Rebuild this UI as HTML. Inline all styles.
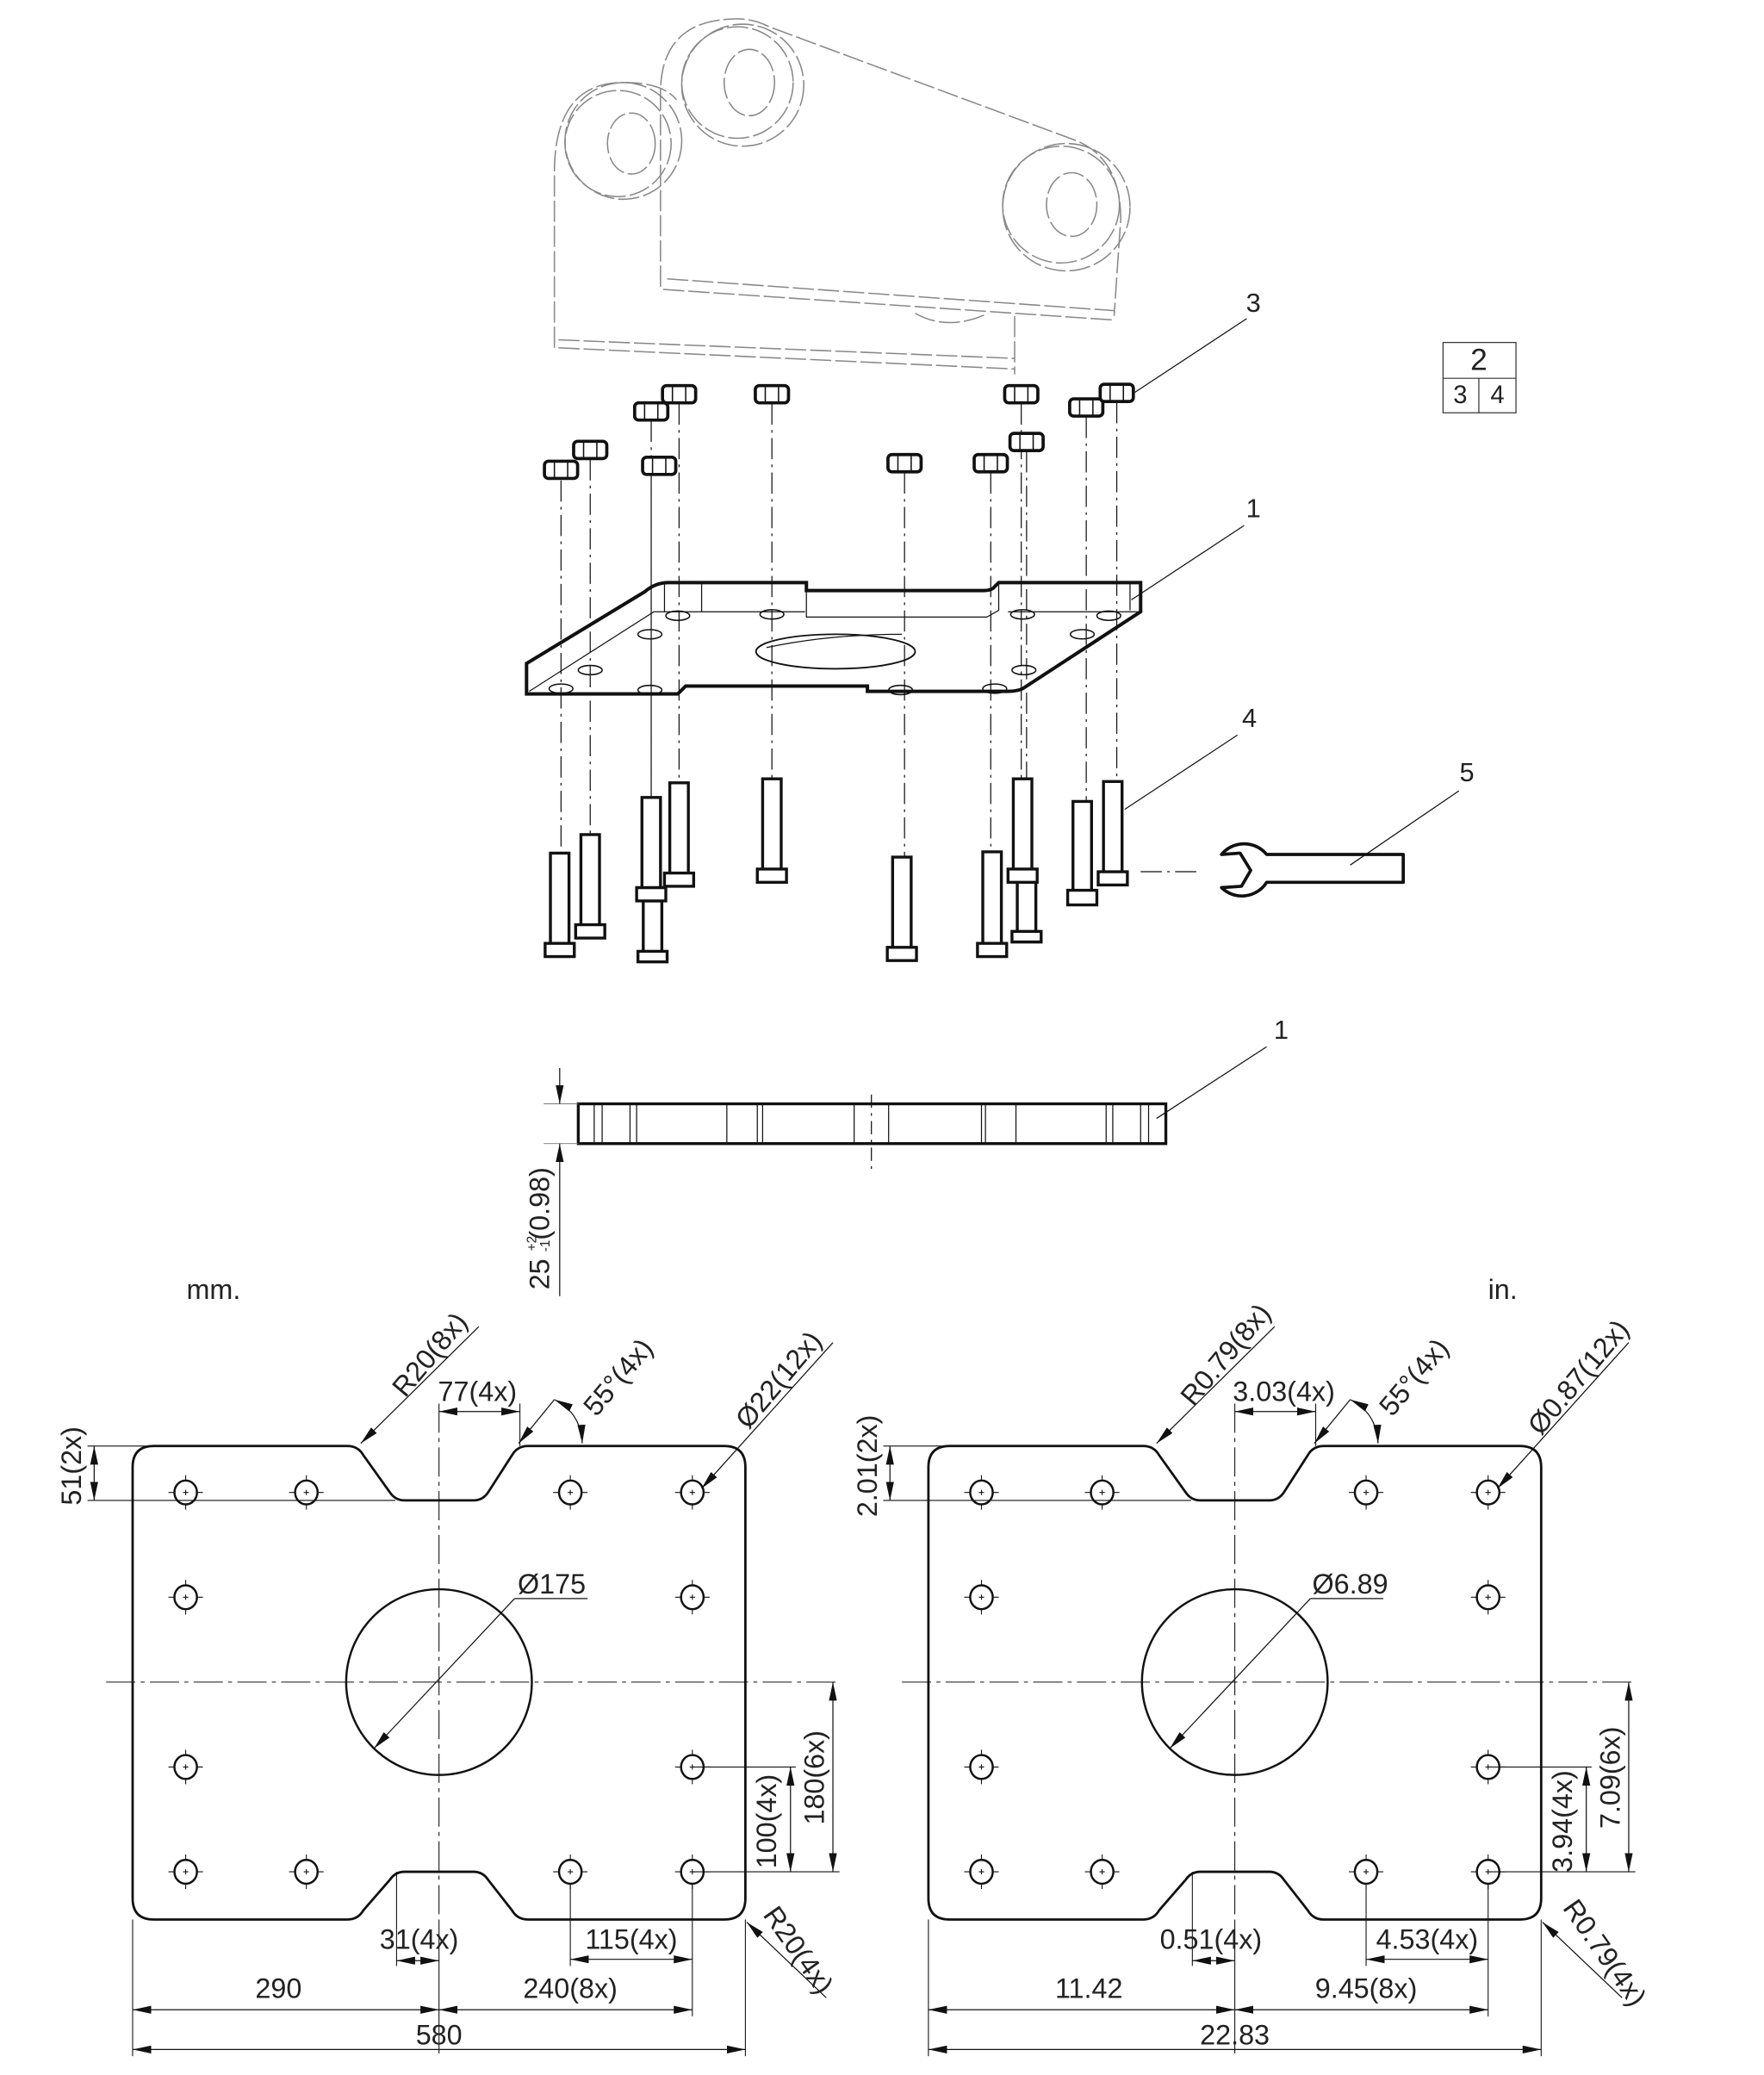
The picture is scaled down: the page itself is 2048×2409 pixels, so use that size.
<!DOCTYPE html>
<html><head><meta charset="utf-8"><style>
html,body{margin:0;padding:0;background:#fff;}
svg{display:block;}
text{font-family:"Liberation Sans",sans-serif;fill:#222;}
</style></head><body>
<svg width="2048" height="2409" viewBox="0 0 1330 1564" xmlns="http://www.w3.org/2000/svg">
<defs>
<marker id="a" viewBox="0 0 14 6" refX="14" refY="3" markerWidth="14" markerHeight="6" markerUnits="userSpaceOnUse" orient="auto-start-reverse"><path d="M0,0 L14,3 L0,6 z" fill="#111"/></marker>
<g id="nut"><rect x="-12.5" y="-6.5" width="25" height="13" rx="3"/><path d="M-5,-6V6M5,-6V6" stroke-width="1"/></g>
<g id="h"><ellipse cx="0" cy="0" rx="8.5" ry="9" fill="none" stroke="#111" stroke-width="1.6"/><path d="M-13,0h4M9,0h4M0,-13v4M0,9v4M-2,0h4M0,-2v4" stroke="#111" stroke-width="0.7"/></g>
<g id="plate">
<path d="M116,1090 H262 Q270,1090 274,1097 L294,1125 Q298,1131 305,1131 H357 Q364,1131 368,1125 L386,1097 Q390,1090 398,1090 H546 Q562,1090 562,1106 V1431 Q562,1447 546,1447 H398 Q390,1447 386,1440 L368,1417 Q364,1411 357,1411 H305 Q298,1411 294,1417 L274,1440 Q270,1447 262,1447 H116 Q100,1447 100,1431 V1106 Q100,1090 116,1090 Z" fill="none" stroke="#111" stroke-width="1.8"/>
<use href="#h" x="140" y="1125"/><use href="#h" x="231" y="1125"/><use href="#h" x="430" y="1125"/><use href="#h" x="522" y="1125"/>
<use href="#h" x="140" y="1204"/><use href="#h" x="522" y="1204"/>
<use href="#h" x="140" y="1332"/><use href="#h" x="522" y="1332"/>
<use href="#h" x="140" y="1411"/><use href="#h" x="231" y="1411"/><use href="#h" x="430" y="1411"/><use href="#h" x="522" y="1411"/>
<circle cx="331" cy="1268" r="70" fill="none" stroke="#111" stroke-width="1.6"/>
<g stroke="#111" stroke-width="0.7">
<path d="M80,1268H632" stroke-dasharray="22 4 3 4"/>
<path d="M331,1058V1447" stroke-dasharray="22 4 3 4"/>
<path d="M331,1447V1548"/>
<path d="M66,1090H110M66,1131H298M392,1058V1090M522,1411H633M522,1332H600M430,1420V1482M522,1420V1520M299,1411V1482M100,1447V1550M562,1447V1550"/>
</g>
<g stroke="#111" stroke-width="0.8" fill="none">
<line x1="71" y1="1090" x2="71" y2="1131" marker-start="url(#a)" marker-end="url(#a)"/>
<line x1="331" y1="1064" x2="392" y2="1064" marker-start="url(#a)" marker-end="url(#a)"/>
<line x1="361" y1="1000" x2="272" y2="1088" marker-end="url(#a)"/>
<line x1="418" y1="1055" x2="391" y2="1088" marker-end="url(#a)"/>
<path d="M418,1055 Q438,1065 439,1088" marker-start="url(#a)" marker-end="url(#a)"/>
<line x1="628" y1="1012" x2="529" y2="1122" marker-end="url(#a)"/>
<line x1="282" y1="1318" x2="388" y2="1205" marker-start="url(#a)"/>
<line x1="388" y1="1205" x2="443" y2="1205"/>
<line x1="628" y1="1268" x2="628" y2="1411" marker-start="url(#a)" marker-end="url(#a)"/>
<line x1="596" y1="1332" x2="596" y2="1411" marker-start="url(#a)" marker-end="url(#a)"/>
<line x1="623" y1="1506" x2="563" y2="1449" marker-end="url(#a)"/>
<line x1="299" y1="1478" x2="331" y2="1478" marker-start="url(#a)" marker-end="url(#a)"/>
<line x1="430" y1="1477" x2="522" y2="1477" marker-start="url(#a)" marker-end="url(#a)"/>
<line x1="100" y1="1515" x2="331" y2="1515" marker-start="url(#a)" marker-end="url(#a)"/>
<line x1="331" y1="1515" x2="522" y2="1515" marker-start="url(#a)" marker-end="url(#a)"/>
<line x1="100" y1="1545" x2="562" y2="1545" marker-start="url(#a)" marker-end="url(#a)"/>
</g>
</g>
</defs>

<use href="#plate"/>
<use href="#plate" transform="translate(600,0)"/>

<g font-size="21" text-anchor="middle" dominant-baseline="central">
<text x="161" y="972">mm.</text>
<text x="1133" y="972">in.</text>
<text transform="translate(54,1105) rotate(-90)">51(2x)</text>
<text transform="translate(324,1021) rotate(-50)">R20(8x)</text>
<text x="360" y="1049">77(4x)</text>
<text transform="translate(466,1038) rotate(-50)">55°(4x)</text>
<text transform="translate(587,1040) rotate(-50)">Ø22(12x)</text>
<text x="416" y="1194">Ø175</text>
<text transform="translate(614,1340) rotate(-90)">180(6x)</text>
<text transform="translate(578,1373) rotate(-90)">100(4x)</text>
<text transform="translate(602,1470) rotate(55)">R20(4x)</text>
<text x="316" y="1462">31(4x)</text>
<text x="476" y="1462">115(4x)</text>
<text x="210" y="1499">290</text>
<text x="430" y="1499">240(8x)</text>
<text x="331" y="1534">580</text>

<text transform="translate(654,1105) rotate(-90)">2.01(2x)</text>
<text transform="translate(924,1021) rotate(-50)">R0.79(8x)</text>
<text x="968" y="1049">3.03(4x)</text>
<text transform="translate(1066,1038) rotate(-50)">55°(4x)</text>
<text transform="translate(1190,1038) rotate(-50)">Ø0.87(12x)</text>
<text x="1018" y="1194">Ø6.89</text>
<text transform="translate(1214,1340) rotate(-90)">7.09(6x)</text>
<text transform="translate(1178,1373) rotate(-90)">3.94(4x)</text>
<text transform="translate(1210,1472) rotate(55)">R0.79(4x)</text>
<text x="913" y="1462">0.51(4x)</text>
<text x="1076" y="1462">4.53(4x)</text>
<text x="821" y="1499">11.42</text>
<text x="1030" y="1499">9.45(8x)</text>
<text x="931" y="1534">22.83</text>
</g>

<!-- side view -->
<g stroke="#111" fill="none">
<rect x="436" y="832" width="443" height="30" stroke-width="2.2"/>
<path stroke-width="0.8" d="M448,832V862M454,832V862M475,832V862M480,832V862M548,832V862M571,832V862M575,832V862M644,832V862M670,832V862M740,832V862M743,832V862M766,832V862M834,832V862M839,832V862M860,832V862M866,832V862"/>
<path stroke-width="0.8" d="M657,825V885" stroke-dasharray="10 4 2 4"/>
<path stroke-width="0.6" stroke="#777" d="M410,832H436M410,862H436"/>
<line x1="422" y1="805" x2="422" y2="832" stroke-width="0.8" marker-end="url(#a)"/>
<line x1="422" y1="977" x2="422" y2="862" stroke-width="0.8" marker-end="url(#a)"/>
<line x1="872" y1="843" x2="955" y2="789" stroke-width="0.8"/>
</g>
<text transform="translate(407,926) rotate(-90)" font-size="21" text-anchor="middle" dominant-baseline="central">25 <tspan font-size="10" dy="-6">+2</tspan><tspan font-size="10" dx="-12" dy="10">-1</tspan><tspan dy="-4">(0.98)</tspan></text>
<text x="966" y="776" font-size="20" text-anchor="middle" dominant-baseline="central">1</text>

<!-- brackets -->
<g fill="none" stroke="#888" stroke-width="1" stroke-dasharray="16 3">
<path d="M418,262 V130 Q418,62 470,62 Q500,62 510,75"/>
<circle cx="466" cy="108" r="40"/><circle cx="470" cy="106" r="44"/>
<ellipse cx="476" cy="108" rx="18" ry="23"/>
<path d="M421,262 L765,278 M421,256 L765,270 M765,238 V282"/>
<path d="M498,216 V70 Q498,14 556,14 Q568,14 580,20 L812,106 Q845,120 845,165 L840,238"/>
<circle cx="556" cy="62" r="42"/><circle cx="560" cy="64" r="46"/>
<ellipse cx="565" cy="62" rx="19" ry="25"/>
<circle cx="800" cy="154" r="44"/><circle cx="804" cy="156" r="48"/>
<ellipse cx="808" cy="154" rx="19" ry="24"/>
<path d="M500,218 L839,241 M503,210 L840,234"/>
<path d="M690,236 Q715,250 745,236"/>
</g>

<!-- plate 3D -->
<g fill="none" stroke="#111">
<path stroke-width="2.6" d="M397,500 L486,446 Q494,439 504,439 H608 V445 H742 Q748,445 750,442 L753,439 H860 V461 L771,519 Q767,521 760,521 H654 V517 H517 L511,523 H397 Z"/>
<path stroke-width="0.8" d="M399,521 L493,461 H607 M608,445 V465 H744 L753,460 V439 M760,461 H858 M501,439 V461 M529,439 V461 M852,440 V460"/>
<ellipse cx="630" cy="491" rx="60" ry="13" stroke-width="1.2"/>
<path stroke-width="0.8" d="M578,488 Q625,478 680,478"/>
<g stroke-width="1"><ellipse cx="511" cy="464" rx="9" ry="3.5"/><ellipse cx="582" cy="463" rx="9" ry="3.5"/><ellipse cx="771" cy="463" rx="9" ry="3.5"/><ellipse cx="836" cy="464" rx="9" ry="3.5"/><ellipse cx="490" cy="478" rx="9" ry="3.5"/><ellipse cx="816" cy="478" rx="9" ry="3.5"/><ellipse cx="445" cy="505" rx="9" ry="3.5"/><ellipse cx="772" cy="505" rx="9" ry="3.5"/><ellipse cx="423" cy="519" rx="9" ry="3.5"/><ellipse cx="490" cy="520" rx="9" ry="3.5"/><ellipse cx="679" cy="520" rx="9" ry="3.5"/><ellipse cx="750" cy="519" rx="9" ry="3.5"/></g>
</g>

<!-- dash-dot axes -->
<g stroke="#111" stroke-width="0.8" stroke-dasharray="16 4 2 4" fill="none">
<path d="M423,362V643M445,346V629M491,317V601M491,358V669M512,304V590M582,304V587M682,356V646M747,356V642M770,304V587M774,340V655M819,314V604M842,303V589M860,657H905"/>
</g>

<!-- nuts -->
<g fill="#fff" stroke="#111" stroke-width="2.4">
<use href="#nut" x="512" y="297"/><use href="#nut" x="582" y="297"/><use href="#nut" x="491" y="310"/><use href="#nut" x="770" y="297"/><use href="#nut" x="819" y="307"/><use href="#nut" x="842" y="296"/><use href="#nut" x="445" y="339"/><use href="#nut" x="423" y="354"/><use href="#nut" x="497" y="351"/><use href="#nut" x="682" y="349"/><use href="#nut" x="747" y="349"/><use href="#nut" x="774" y="333"/>
</g>

<!-- bolts -->
<g fill="#fff" stroke="#111" stroke-width="2.2">
<path d="M485,679h14v38h-14z M481,717h22v8h-22z M767,665h14v37h-14z M763,702h22v8h-22z"/>
<path d="M415,643h14v68h-14z M411,711h22v10h-22z"/>
<path d="M438,629h14v68h-14z M434,697h22v10h-22z"/>
<path d="M484,601h14v68h-14z M480,669h22v10h-22z"/>
<path d="M505,590h14v68h-14z M501,658h22v10h-22z"/>
<path d="M575,587h14v68h-14z M571,655h22v10h-22z"/>
<path d="M673,646h14v68h-14z M669,714h22v10h-22z"/>
<path d="M741,642h14v69h-14z M737,711h22v10h-22z"/>
<path d="M764,587h14v68h-14z M760,655h22v10h-22z"/>
<path d="M809,604h14v67h-14z M805,671h22v11h-22z"/>
<path d="M832,589h14v68h-14z M828,657h22v10h-22z"/>
</g>

<!-- wrench -->
<path d="M921,644 L935,643 L943,656 L936,668 L921,669 A22,22 0 0 0 955,665 H1058 V644 H955 A22,22 0 0 0 921,644 Z" fill="none" stroke="#111" stroke-width="2.4" stroke-linejoin="round"/>

<!-- leaders -->
<g stroke="#111" stroke-width="0.8">
<line x1="855" y1="296" x2="940" y2="240"/>
<line x1="853" y1="452" x2="938" y2="396"/>
<line x1="848" y1="610" x2="933" y2="554"/>
<line x1="1018" y1="652" x2="1100" y2="596"/>
</g>
<g font-size="20" text-anchor="middle" dominant-baseline="central">
<text x="945" y="228">3</text><text x="945" y="383">1</text><text x="942" y="541">4</text><text x="1106" y="582">5</text>
</g>

<!-- balloon box -->
<g fill="none" stroke="#333" stroke-width="0.8"><rect x="1088" y="258" width="55" height="53"/><path d="M1088,285H1143M1115,285V311"/></g>
<g text-anchor="middle" dominant-baseline="central"><text x="1115" y="271" font-size="23">2</text><text x="1101" y="298" font-size="19">3</text><text x="1129" y="298" font-size="19">4</text></g>
</svg>
</body></html>
